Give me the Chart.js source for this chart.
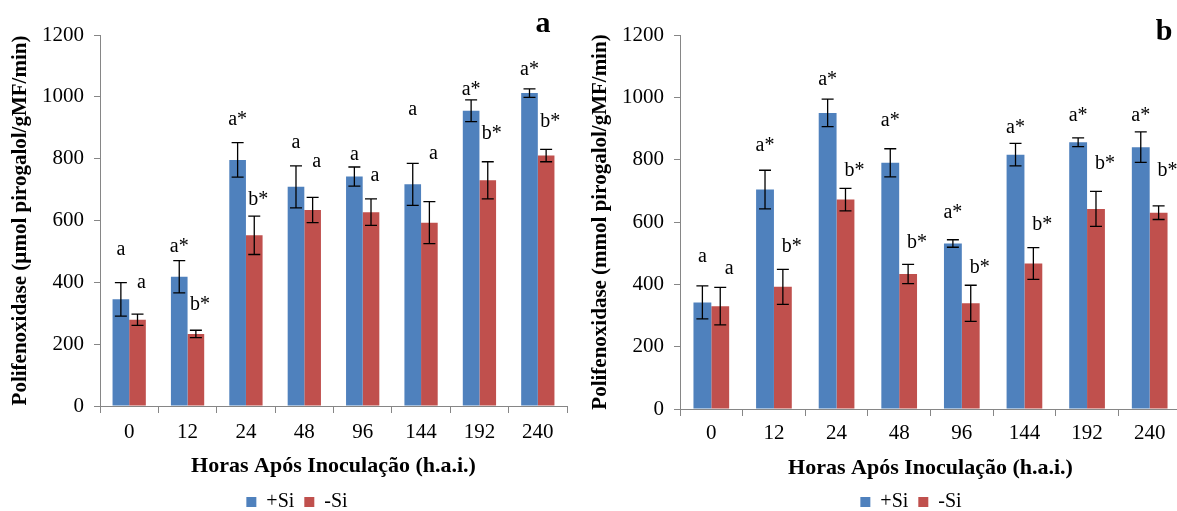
<!DOCTYPE html>
<html>
<head>
<meta charset="utf-8">
<script src="https://cdn.jsdelivr.net/npm/chart.js@4.4.0/dist/chart.umd.min.js"></script>
<style>
  html, body { margin: 0; padding: 0; background: #fff; overflow: hidden; width: 1177px; height: 511px; }
  .panel { position: absolute; top: 0; height: 522px; }
  #boxA { left: 0; width: 594px; }
  #boxB { left: 580px; width: 662px; }
</style>
</head>
<body>
<div class="panel" id="boxA"><canvas id="chartA"></canvas></div>
<div class="panel" id="boxB"><canvas id="chartB"></canvas></div>
<script>
var hours = ['0', '12', '24', '48', '96', '144', '192', '240'];

// painel a
var aPlusSi   = [345, 418, 796, 709, 742, 717, 955, 1012];
var aMinusSi  = [279, 233, 552, 634, 627, 593, 730, 810];
var aPlusErr  = [54, 52, 56, 68, 31, 68, 35, 14];
var aMinusErr = [18, 12, 62, 41, 43, 68, 60, 20];
var aPlusLetters  = ['a', 'a*', 'a*', 'a', 'a', 'a', 'a*', 'a*'];
var aMinusLetters = ['a', 'b*', 'b*', 'a', 'a', 'a', 'b*', 'b*'];
var aPlusLabelAt  = [505, 515, 926, 851, 812, 958, 1023, 1087];
var aMinusLabelAt = [398, 327, 667, 790, 744, 815, 880, 919];

// painel b
var bPlusSi   = [342, 704, 950, 790, 531, 816, 856, 840];
var bMinusSi  = [330, 392, 672, 433, 339, 467, 642, 630];
var bPlusErr  = [53, 62, 44, 45, 12, 36, 14, 49];
var bMinusErr = [60, 56, 36, 31, 58, 51, 56, 22];
var bPlusLetters  = ['a', 'a*', 'a*', 'a*', 'a*', 'a*', 'a*', 'a*'];
var bMinusLetters = ['a', 'b*', 'b*', 'b*', 'b*', 'b*', 'b*', 'b*'];
var bPlusLabelAt  = [490, 846, 1058, 926, 631, 904, 942, 942];
var bMinusLabelAt = [449, 519, 766, 535, 452, 590, 788, 766];

var serif = "'Liberation Serif', 'Times New Roman', serif";
var axisGrey = '#868686';

var errorBars = {
  id: 'errorBars',
  afterDatasetsDraw: function(chart, args, opts) {
    var ctx = chart.ctx;
    var y = chart.scales.y;
    ctx.save();
    ctx.strokeStyle = '#000';
    ctx.lineWidth = 1.3;
    chart.data.datasets.forEach(function(ds, i) {
      chart.getDatasetMeta(i).data.forEach(function(bar, j) {
        var top = y.getPixelForValue(ds.data[j] + ds.errors[j]);
        var bot = y.getPixelForValue(ds.data[j] - ds.errors[j]);
        var x = bar.x, w = opts.cap;
        ctx.beginPath();
        ctx.moveTo(x, top); ctx.lineTo(x, bot);
        ctx.moveTo(x - w, top); ctx.lineTo(x + w, top);
        ctx.moveTo(x - w, bot); ctx.lineTo(x + w, bot);
        ctx.stroke();
      });
    });
    ctx.restore();
  }
};

var sigLetters = {
  id: 'sigLetters',
  afterDatasetsDraw: function(chart, args, opts) {
    var ctx = chart.ctx;
    var y = chart.scales.y;
    ctx.save();
    ctx.fillStyle = '#000';
    ctx.font = '20px ' + serif;
    ctx.textAlign = 'center';
    ctx.textBaseline = 'middle';
    chart.data.datasets.forEach(function(ds, i) {
      chart.getDatasetMeta(i).data.forEach(function(bar, j) {
        ctx.fillText(ds.letters[j], bar.x + opts.shift[i], y.getPixelForValue(ds.labelAt[j]));
      });
    });
    ctx.restore();
  }
};

var panelTag = {
  id: 'panelTag',
  afterDraw: function(chart, args, opts) {
    var ctx = chart.ctx;
    ctx.save();
    ctx.fillStyle = '#000';
    ctx.font = 'bold 30px ' + serif;
    ctx.textAlign = 'center';
    ctx.textBaseline = 'alphabetic';
    ctx.fillText(opts.text, opts.x, opts.y);
    ctx.restore();
  }
};

function makeChart(id, plus, minus, plusErr, minusErr, plusLet, minusLet, plusAt, minusAt, s) {
  var ctx = document.getElementById(id).getContext('2d');
  return new Chart(ctx, {
    type: 'bar',
    data: {
      labels: hours,
      datasets: [{
        label: '+Si',
        data: plus,
        errors: plusErr,
        letters: plusLet,
        labelAt: plusAt,
        backgroundColor: '#4F81BD',
        borderWidth: 0,
        categoryPercentage: 0.57,
        barPercentage: 1.0
      },
      {
        label: '-Si',
        data: minus,
        errors: minusErr,
        letters: minusLet,
        labelAt: minusAt,
        backgroundColor: '#C0504D',
        borderWidth: 0,
        categoryPercentage: 0.57,
        barPercentage: 1.0
      }]
    },
    plugins: [errorBars, sigLetters, panelTag],
    options: {
      responsive: true,
      maintainAspectRatio: false,
      animation: false,
      layout: { padding: { top: 35, left: 0, right: 0, bottom: 0 } },
      plugins: {
        legend: {
          position: 'bottom',
          labels: { font: { family: serif, size: 20 }, color: '#000', boxWidth: 10, boxHeight: 10, padding: 10 }
        },
        tooltip: { enabled: false },
        errorBars: { cap: 6 },
        sigLetters: { shift: [0, s.shift] },
        panelTag: { text: s.tag, x: s.tagX, y: s.tagY }
      },
      scales: {
        x: {
          grid: { display: true, drawOnChartArea: false, tickLength: 7, color: axisGrey, offset: true },
          border: { color: axisGrey },
          ticks: { font: { family: serif, size: 21 }, color: '#000', padding: s.xPad, maxRotation: 0 },
          title: {
            display: true,
            text: 'Horas Após Inoculação (h.a.i.)',
            font: { family: serif, size: 22, weight: 'bold' },
            color: '#000',
            padding: { top: 0, bottom: s.xTitlePad }
          },
          afterFit: function(scale) { scale.height = s.xHeight; }
        },
        y: {
          min: 0,
          max: 1200,
          ticks: {
            stepSize: 200,
            font: { family: serif, size: 21 },
            color: '#000',
            padding: 10,
            callback: function(value) { return String(value); }
          },
          grid: { drawOnChartArea: false, tickLength: 6, color: axisGrey },
          border: { color: axisGrey },
          title: {
            display: true,
            text: s.yTitle,
            font: { family: serif, size: 21, weight: 'bold' },
            color: '#000',
            padding: { top: 8, bottom: 0 }
          },
          afterFit: function(scale) { scale.width = 100; }
        },
        y2: {
          position: 'right',
          grid: { display: false },
          border: { display: false },
          ticks: { display: false },
          afterFit: function(scale) { scale.width = s.rightGap; }
        }
      }
    }
  });
}

function init() {
  makeChart('chartA', aPlusSi, aMinusSi, aPlusErr, aMinusErr, aPlusLetters, aMinusLetters, aPlusLabelAt, aMinusLabelAt, {
    shift: 4, tag: 'a', tagX: 543, tagY: 32,
    xPad: 7, xTitlePad: 2, xHeight: 76, rightGap: 27,
    yTitle: 'Polifenoxidase (µmol pirogalol/gMF/min)'
  });
  makeChart('chartB', bPlusSi, bMinusSi, bPlusErr, bMinusErr, bPlusLetters, bMinusLetters, bPlusLabelAt, bMinusLabelAt, {
    shift: 9, tag: 'b', tagX: 584, tagY: 40,
    xPad: 5, xTitlePad: 0, xHeight: 73, rightGap: 61,
    yTitle: 'Polifenoxidase (mmol pirogalol/gMF/min)'
  });
}

init();
</script>
</body>
</html>
